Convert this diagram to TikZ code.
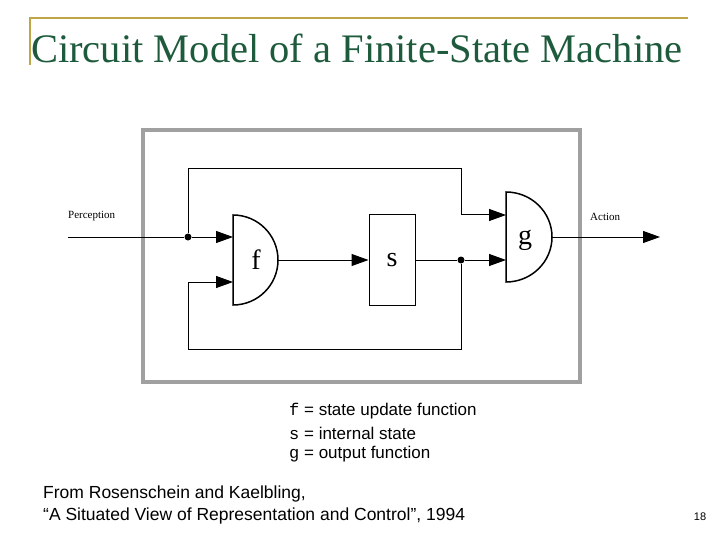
\documentclass[tikz,border=0pt]{standalone}
\usepackage{fontspec}
\setmainfont{Liberation Serif}
\setsansfont{Liberation Sans}
\setmonofont{Liberation Mono}
\usetikzlibrary{arrows.meta}
\definecolor{titlegreen}{RGB}{30,90,60}
\definecolor{gold}{RGB}{190,165,70}
\definecolor{boxgray}{RGB}{160,160,160}
\begin{document}
\begin{tikzpicture}[x=1pt,y=-1pt,
  wire/.style={line width=1pt},
  arr/.style={wire,-{Triangle[length=17pt,width=12pt]}},
  gate/.style={line width=1.5pt},
  dotc/.style={circle,fill,inner sep=0pt,minimum size=7pt},
  lbl/.style={font=\fontsize{11}{12}\selectfont\rmfamily,inner sep=0pt},
  legend/.style={font=\fontsize{17}{19}\selectfont\sffamily,anchor=west,inner sep=0pt}]
\useasboundingbox (0,0) rectangle (720,540);
\fill[white] (0,0) rectangle (720,540);
% title
\draw[gold,line width=1.5pt] (30,65) -- (30,18) -- (688,18);
\node[anchor=west,text=titlegreen,font=\fontsize{40.5}{44}\selectfont,inner sep=0pt] (title) at (31,48) {Circuit Model of a Finite-State Machine};
% frame
\draw[boxgray,line width=4pt] (143,130) rectangle (580,382);
% gates
\draw[gate] (233,215) -- (233,305) arc[start angle=90,end angle=-90,x radius=45,y radius=45] -- cycle;
\draw[gate] (506,192) -- (506,282) arc[start angle=90,end angle=-90,x radius=46,y radius=45] -- cycle;
\node[font=\fontsize{28}{30}\selectfont,inner sep=0pt] (f) at (256,260) {f};
\node[font=\fontsize{28}{30}\selectfont,inner sep=0pt] (g) at (525,240) {g};
\coordinate (fin1) at (233,237);
\coordinate (fin2) at (233,282);
\coordinate (fout) at (278,260);
\coordinate (gin1) at (506,215);
\coordinate (gin2) at (506,260);
\coordinate (gout) at (552,237);
\node[draw,line width=1pt,minimum width=46pt,minimum height=90pt,font=\fontsize{28}{30}\selectfont] (s) at (392,260) {s};
% wires
\coordinate (pin) at (68,237);
\node[dotc] (d1) at (188,237) {};
\node[dotc] (d2) at (461,260) {};
\draw[wire] (pin) -- (d1);
\draw[arr] (d1) -- (fin1);
\draw[arr] (fout) -- (s.west);
\draw[wire] (s.east) -- (d2);
\draw[arr] (d2) -- (gin2);
\draw[arr] (d1) |- (461,169) -- (461,215) -- (gin1);
\draw[arr] (d2) |- (188,349) -- (188,282) -- (fin2);
\coordinate (aout) at (660,237);
\draw[arr] (gout) -- (aout);
\node[lbl,anchor=west] (perc) at (68,216) {Perception};
\node[lbl,anchor=west] (act) at (590,217) {Action};
% legend
\node[legend] (l1) at (289,411) {\ttfamily f\sffamily{} = state update function};
\node[legend] (l2) at (289,433) {\ttfamily s\sffamily{} = internal state};
\node[legend] (l3) at (289,454) {\ttfamily g\sffamily{} = output function};
\node[legend,font=\fontsize{17.5}{20}\selectfont\sffamily] (c1) at (43,494) {From Rosenschein and Kaelbling,};
\node[legend,font=\fontsize{17.5}{20}\selectfont\sffamily] (c2) at (43,516) {“A Situated View of Representation and Control”, 1994};
\node[font=\fontsize{11}{12}\selectfont\sffamily,inner sep=0pt] (pg) at (700,517) {18};
\end{tikzpicture}
\end{document}
